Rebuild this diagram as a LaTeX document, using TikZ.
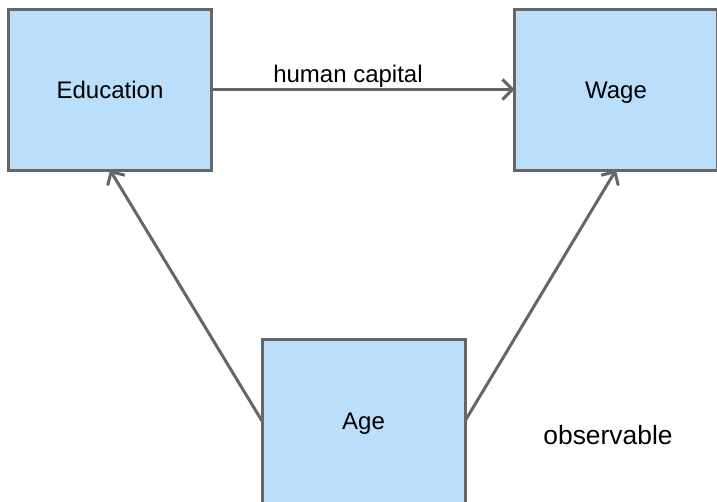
\documentclass[tikz,border=0pt]{standalone}
\usepackage{fontspec}
\setmainfont{Liberation Sans}
\usetikzlibrary{arrows.meta}
\definecolor{boxfill}{HTML}{BBDEFB}
\definecolor{edgegray}{HTML}{666666}
\tikzset{
  varbox/.style={draw=edgegray, fill=boxfill, line width=3pt, minimum width=203pt, minimum height=161pt, inner sep=0pt, outer sep=0pt, text height=17pt, text depth=0pt, font=\fontsize{24}{28}\selectfont},
  link/.style={draw=edgegray, line width=3pt, -{Straight Barb[length=10pt, width=20pt, line width=3pt]}},
  lbl/.style={font=\fontsize{24}{28}\selectfont, inner sep=0pt}
}
\begin{document}
\begin{tikzpicture}[x=1pt, y=-1pt]
\useasboundingbox (0,0) rectangle (717,501);
\begin{scope}
\clip (0,0) rectangle (717,501);
\node[varbox] (edu) at (110,89.5) {Education};
\node[varbox] (wage) at (616,89.5) {Wage};
\node[varbox, minimum height=164pt] (age) at (363.5,421) {Age};
\end{scope}
\draw[link] (edu.east) -- (wage.west);
\draw[link] (age.west) -- (edu.south);
\draw[link] (age.east) -- (wage.south);
\node[lbl, anchor=base] (hc) at (348,82) {human capital};
\node[lbl, anchor=base, font=\fontsize{26.4}{30}\selectfont] (obs) at (608,444) {observable};
\end{tikzpicture}
\end{document}
